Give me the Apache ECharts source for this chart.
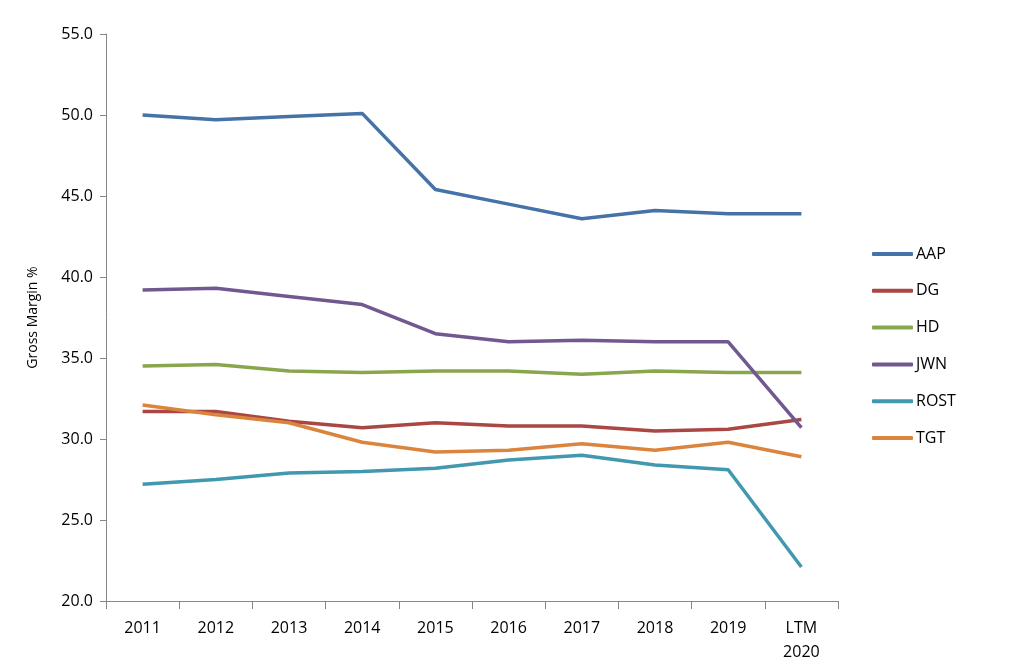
<!DOCTYPE html>
<html>
<head>
<meta charset="utf-8">
<script src="https://cdn.jsdelivr.net/npm/echarts@6/dist/echarts.min.js"></script>
<style>
  html, body { margin: 0; padding: 0; background: #fff; }
  #main { width: 1024px; height: 672px; }
</style>
</head>
<body>
<div id="main"></div>
<script>
// categories + gross margin values
var years = ['2011', '2012', '2013', '2014', '2015', '2016', '2017', '2018', '2019', 'LTM\n2020'];
var names = ['AAP', 'DG', 'HD', 'JWN', 'ROST', 'TGT'];
var colors = ['#4572A7', '#AA4643', '#89A54E', '#71588F', '#4198AF', '#DB843D'];

var aap  = [50.0, 49.7, 49.9, 50.1, 45.4, 44.5, 43.6, 44.1, 43.9, 43.9];
var dg   = [31.7, 31.7, 31.1, 30.7, 31.0, 30.8, 30.8, 30.5, 30.6, 31.2];
var hd   = [34.5, 34.6, 34.2, 34.1, 34.2, 34.2, 34.0, 34.2, 34.1, 34.1];
var jwn  = [39.2, 39.3, 38.8, 38.3, 36.5, 36.0, 36.1, 36.0, 36.0, 30.7];
var rost = [27.2, 27.5, 27.9, 28.0, 28.2, 28.7, 29.0, 28.4, 28.1, 22.1];
var tgt  = [32.1, 31.5, 31.0, 29.8, 29.2, 29.3, 29.7, 29.3, 29.8, 28.9];

var seriesData = [aap, dg, hd, jwn, rost, tgt];

var chart = echarts.init(document.getElementById('main'));
var font = '"Open Sans", "Liberation Sans", sans-serif';

var series = [];
for (var i = 0; i < names.length; i++) {
    series.push({
        name: names[i],
        type: 'line',
        data: seriesData[i],
        symbol: 'none',
        lineStyle: { width: 3.5, color: colors[i] },
        itemStyle: { color: colors[i] },
        emphasis: { disabled: true }
    });
}

var option = {
    animation: false,
    color: colors,
    grid: { left: 106, right: 186, top: 34, bottom: 71 },
    legend: {
        orient: 'vertical',
        left: 867,
        top: 238,
        itemWidth: 41,
        itemHeight: 4,
        itemGap: 14.8,
        icon: 'roundRect',
        textStyle: { fontFamily: font, fontSize: 16, color: '#000', lineHeight: 22, padding: [0, 0, 0, -2] },
        data: names
    },
    xAxis: {
        type: 'category',
        data: years,
        boundaryGap: true,
        axisLine: { lineStyle: { color: '#868686', width: 1 } },
        axisTick: { show: true, alignWithLabel: false, interval: 0, length: 8, lineStyle: { color: '#868686' } },
        axisLabel: { interval: 0, margin: 15, fontFamily: font, fontSize: 16, color: '#000', lineHeight: 24 }
    },
    yAxis: {
        type: 'value',
        min: 20,
        max: 55,
        interval: 5,
        name: 'Gross Margin %',
        nameLocation: 'middle',
        nameGap: 66,
        nameTextStyle: { fontFamily: font, fontSize: 14, color: '#000' },
        axisLine: { show: true, lineStyle: { color: '#868686', width: 1 } },
        axisTick: { show: true, length: 6, lineStyle: { color: '#868686' } },
        splitLine: { show: false },
        axisLabel: {
            margin: 13,
            fontFamily: font,
            fontSize: 16,
            color: '#000',
            formatter: function (v) { return v.toFixed(1); }
        }
    },
    series: series
};

chart.setOption(option);
</script>
</body>
</html>
